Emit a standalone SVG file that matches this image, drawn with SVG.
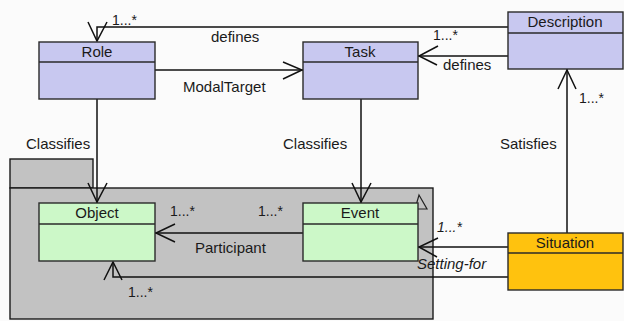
<svg xmlns="http://www.w3.org/2000/svg" width="624" height="321" viewBox="0 0 624 321">
  <style>
    text { font-family: "Liberation Sans", Arial, sans-serif; font-size: 15px; fill: #1a1a1a; }
    .hdr { text-anchor: middle; }
    .mult { font-size: 14px; }
    .it { font-style: italic; }
    .box { stroke: #2a2a2a; stroke-width: 1.4; }
    .role { fill: #c8c8f0; }
    .ev { fill: #ccf8c8; }
    .sit { fill: #ffc20e; }
    .pkg { fill: #c2c2c2; stroke: #1a1a1a; stroke-width: 1.4; }
    .line { fill: none; stroke: #111; stroke-width: 1.5; }
  </style>

  <rect width="624" height="321" fill="#fbfbfb"/>

  <!-- package frame -->
  <g id="package">
    <rect class="pkg" x="10" y="159" width="83" height="29"/>
    <rect class="pkg" x="10" y="188" width="423" height="131"/>
  </g>

  <!-- small generalization marker beside Event -->
  <polygon points="419,195 427,209 415,209" fill="none" stroke="#222" stroke-width="1.2"/>

  <g id="connectors">
    <!-- Description defines Role -->
    <polyline class="line" points="508,27 97,27 97,41"/>
    <polyline class="line" points="88,22 97,41 107,22"/>
    <!-- Role ModalTarget Task -->
    <line class="line" x1="155" y1="70" x2="303" y2="70"/>
    <polyline class="line" points="283,62 302,70 283,79"/>
    <!-- Description defines Task -->
    <line class="line" x1="508" y1="56" x2="418" y2="56"/>
    <polyline class="line" points="438,46 419,56 437,65"/>
    <!-- Situation satisfies Description -->
    <line class="line" x1="567" y1="233" x2="567" y2="69"/>
    <polyline class="line" points="558,89 567,70 576,89"/>
    <!-- Role classifies Object -->
    <line class="line" x1="97" y1="99" x2="97" y2="203"/>
    <polyline class="line" points="88,183 97,202 107,183"/>
    <!-- Task classifies Event -->
    <line class="line" x1="361" y1="99" x2="361" y2="203"/>
    <polyline class="line" points="352,183 361,202 371,183"/>
    <!-- Event participant Object -->
    <line class="line" x1="303" y1="233" x2="155" y2="233"/>
    <polyline class="line" points="175,224 156,233 175,242"/>
    <!-- Situation setting-for Event -->
    <line class="line" x1="508" y1="247" x2="418" y2="247"/>
    <polyline class="line" points="438,238 419,247 437,257"/>
    <!-- Situation to Object -->
    <polyline class="line" points="508,277 113,277 113,262"/>
    <polyline class="line" points="104,280 113,262 122,280"/>
  </g>

  <g id="role">
    <rect class="box role" x="39" y="42" width="116" height="57"/>
    <line class="box" x1="39" y1="62" x2="155" y2="62"/>
    <text class="hdr" x="97" y="57">Role</text>
  </g>

  <g id="task">
    <rect class="box role" x="303" y="42" width="115" height="57"/>
    <line class="box" x1="303" y1="62" x2="418" y2="62"/>
    <text class="hdr" x="360" y="57">Task</text>
  </g>

  <g id="description">
    <rect class="box role" x="508" y="12" width="115" height="57"/>
    <line class="box" x1="508" y1="33" x2="623" y2="33"/>
    <text class="hdr" x="565" y="27">Description</text>
  </g>

  <g id="object">
    <rect class="box ev" x="39" y="203" width="116" height="58"/>
    <line class="box" x1="39" y1="224" x2="155" y2="224"/>
    <text class="hdr" x="97" y="218">Object</text>
  </g>

  <g id="event">
    <rect class="box ev" x="303" y="203" width="115" height="58"/>
    <line class="box" x1="303" y1="224" x2="418" y2="224"/>
    <text class="hdr" x="360" y="218">Event</text>
  </g>

  <g id="situation">
    <rect class="box sit" x="508" y="233" width="115" height="57"/>
    <line class="box" x1="508" y1="253" x2="623" y2="253"/>
    <text class="hdr" x="565" y="248">Situation</text>
  </g>

  <!-- connector labels -->
  <g id="labels">
    <text class="mult" x="112" y="25">1...*</text>
    <text x="211" y="42">defines</text>
    <text x="183" y="92">ModalTarget</text>
    <text class="mult" x="433" y="40">1...*</text>
    <text x="443" y="70">defines</text>
    <text class="mult" x="579" y="103">1...*</text>
    <text x="500" y="149">Satisfies</text>
    <text x="26" y="149">Classifies</text>
    <text x="283" y="149">Classifies</text>
    <text class="mult" x="170" y="216">1...*</text>
    <text class="mult" x="258" y="216">1...*</text>
    <text x="195" y="253">Participant</text>
    <text class="mult it" x="437" y="232">1...*</text>
    <text class="it" x="417" y="269">Setting-for</text>
    <text class="mult" x="128" y="297">1...*</text>
  </g>
</svg>
